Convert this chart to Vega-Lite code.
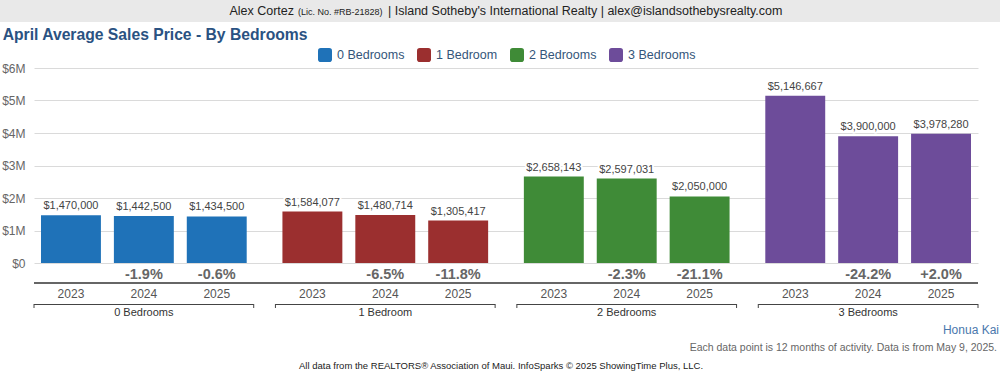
{
  "$schema": "https://vega.github.io/schema/vega-lite/v6.json",
  "padding": 0,
  "background": "white",
  "spacing": 5,
  "columns": 1,
  "align": "none",
  "bounds": "full",
  "resolve": {"scale": {"color": "independent"}, "legend": {"color": "independent"}},
  "config": {
    "font": "Liberation Sans",
    "view": {"stroke": null}
  },
  "concat": [
    {
      "width": 966,
      "height": 22,
      "view": {"stroke": null},
      "data": {"values": [{"name": "Alex Cortez", "lic": "(Lic. No. #RB-21828)", "rest": "| Island Sotheby's International Realty | alex@islandsothebysrealty.com"}]},
      "layer": [
        {"mark": {"type": "rect", "color": "#e9e9e9", "xOffset": -34}, "encoding": {"x": {"value": 0}, "x2": {"value": "width"}, "y": {"value": 0}, "y2": {"value": "height"}}},
        {"mark": {"type": "text", "align": "right", "baseline": "middle", "dx": -223, "fontSize": 12.5, "color": "#222"}, "encoding": {"text": {"field": "name"}}},
        {"mark": {"type": "text", "align": "left", "baseline": "middle", "dx": -219, "dy": 1, "fontSize": 9, "color": "#222"}, "encoding": {"text": {"field": "lic"}}},
        {"mark": {"type": "text", "align": "left", "baseline": "middle", "dx": -129, "fontSize": 12.5, "color": "#222"}, "encoding": {"text": {"field": "rest"}}}
      ]
    },
    {
      "width": 944,
      "height": 195,
      "title": {"text": "April Average Sales Price - By Bedrooms", "anchor": "start", "frame": "bounds", "fontSize": 15.7, "fontWeight": "bold", "color": "#2a5282", "offset": 4, "dx": 1},
      "data": {"values": [
        {"group": "0 Bedrooms", "year": "2023", "price": 1470000, "change": ""},
        {"group": "0 Bedrooms", "year": "2024", "price": 1442500, "change": "-1.9%"},
        {"group": "0 Bedrooms", "year": "2025", "price": 1434500, "change": "-0.6%"},
        {"group": "1 Bedroom", "year": "2023", "price": 1584077, "change": ""},
        {"group": "1 Bedroom", "year": "2024", "price": 1480714, "change": "-6.5%"},
        {"group": "1 Bedroom", "year": "2025", "price": 1305417, "change": "-11.8%"},
        {"group": "2 Bedrooms", "year": "2023", "price": 2658143, "change": ""},
        {"group": "2 Bedrooms", "year": "2024", "price": 2597031, "change": "-2.3%"},
        {"group": "2 Bedrooms", "year": "2025", "price": 2050000, "change": "-21.1%"},
        {"group": "3 Bedrooms", "year": "2023", "price": 5146667, "change": ""},
        {"group": "3 Bedrooms", "year": "2024", "price": 3900000, "change": "-24.2%"},
        {"group": "3 Bedrooms", "year": "2025", "price": 3978280, "change": "+2.0%"}
      ]},
      "layer": [
        {
          "mark": {"type": "bar"},
          "encoding": {
            "x": {"field": "group", "type": "nominal", "sort": null, "scale": {"paddingInner": 0.09, "paddingOuter": 0}, "axis": null},
            "xOffset": {"field": "year", "type": "nominal", "scale": {"paddingInner": 0.178, "paddingOuter": 0.096}},
            "y": {"field": "price", "type": "quantitative", "scale": {"domain": [0, 6000000], "nice": false},
              "axis": {"values": [0, 1000000, 2000000, 3000000, 4000000, 5000000, 6000000], "labelExpr": "datum.value == 0 ? '$0' : '$' + datum.value / 1000000 + 'M'", "title": null, "domain": false, "ticks": false, "labelPadding": 9, "labelFontSize": 12, "labelColor": "#666", "gridColor": "#dadada", "labelOverlap": false}},
            "color": {"field": "group", "type": "nominal", "sort": null,
              "scale": {"domain": ["0 Bedrooms", "1 Bedroom", "2 Bedrooms", "3 Bedrooms"], "range": ["#1f72b8", "#9b2f2f", "#3f8b37", "#6d4c9a"]},
              "legend": {"title": null, "orient": "none", "direction": "horizontal", "legendX": 284, "legendY": -20,
                "symbolType": "M-1,-0.6Q-1,-1,-0.6,-1L0.6,-1Q1,-1,1,-0.6L1,0.6Q1,1,0.6,1L-0.6,1Q-1,1,-1,0.6Z",
                "symbolSize": 196, "symbolOpacity": 1, "symbolStrokeWidth": 0, "labelFontSize": 12.5, "labelColor": "#34557a", "labelOffset": 5, "columnPadding": 12}}
          }
        },
        {
          "mark": {"type": "text", "baseline": "bottom", "dy": -4, "fontSize": 11, "stroke": "white", "strokeWidth": 4, "strokeJoin": "round"},
          "encoding": {
            "x": {"field": "group", "type": "nominal", "sort": null},
            "xOffset": {"field": "year", "type": "nominal"},
            "y": {"field": "price", "type": "quantitative", "axis": {"values": [0, 1000000, 2000000, 3000000, 4000000, 5000000, 6000000], "labelExpr": "datum.value == 0 ? '$0' : '$' + datum.value / 1000000 + 'M'", "title": null, "domain": false, "ticks": false, "labelPadding": 9, "labelFontSize": 12, "labelColor": "#666", "gridColor": "#dadada", "labelOverlap": false}},
            "text": {"field": "price", "type": "quantitative", "format": "$,.0f"}
          }
        },
        {
          "mark": {"type": "text", "baseline": "bottom", "dy": -4, "fontSize": 11, "color": "#444"},
          "encoding": {
            "x": {"field": "group", "type": "nominal", "sort": null},
            "xOffset": {"field": "year", "type": "nominal"},
            "y": {"field": "price", "type": "quantitative", "axis": {"values": [0, 1000000, 2000000, 3000000, 4000000, 5000000, 6000000], "labelExpr": "datum.value == 0 ? '$0' : '$' + datum.value / 1000000 + 'M'", "title": null, "domain": false, "ticks": false, "labelPadding": 9, "labelFontSize": 12, "labelColor": "#666", "gridColor": "#dadada", "labelOverlap": false}},
            "text": {"field": "price", "type": "quantitative", "format": "$,.0f"}
          }
        },
        {
          "mark": {"type": "text", "baseline": "middle", "dy": 11.5, "fontSize": 14.5, "fontWeight": "bold", "color": "#666"},
          "encoding": {
            "x": {"field": "group", "type": "nominal", "sort": null},
            "xOffset": {"field": "year", "type": "nominal"},
            "y": {"datum": 0, "type": "quantitative", "axis": {"values": [0, 1000000, 2000000, 3000000, 4000000, 5000000, 6000000], "labelExpr": "datum.value == 0 ? '$0' : '$' + datum.value / 1000000 + 'M'", "title": null, "domain": false, "ticks": false, "labelPadding": 9, "labelFontSize": 12, "labelColor": "#666", "gridColor": "#dadada", "labelOverlap": false}},
            "text": {"field": "change"}
          }
        },
        {
          "mark": {"type": "rule", "color": "#666", "strokeWidth": 1, "yOffset": 20},
          "encoding": {"y": {"datum": 0, "type": "quantitative", "axis": {"values": [0, 1000000, 2000000, 3000000, 4000000, 5000000, 6000000], "labelExpr": "datum.value == 0 ? '$0' : '$' + datum.value / 1000000 + 'M'", "title": null, "domain": false, "ticks": false, "labelPadding": 9, "labelFontSize": 12, "labelColor": "#666", "gridColor": "#dadada", "labelOverlap": false}}}
        },
        {
          "mark": {"type": "text", "baseline": "middle", "dy": 31, "fontSize": 12, "color": "#555"},
          "encoding": {
            "x": {"field": "group", "type": "nominal", "sort": null},
            "xOffset": {"field": "year", "type": "nominal"},
            "y": {"datum": 0, "type": "quantitative", "axis": {"values": [0, 1000000, 2000000, 3000000, 4000000, 5000000, 6000000], "labelExpr": "datum.value == 0 ? '$0' : '$' + datum.value / 1000000 + 'M'", "title": null, "domain": false, "ticks": false, "labelPadding": 9, "labelFontSize": 12, "labelColor": "#666", "gridColor": "#dadada", "labelOverlap": false}},
            "text": {"field": "year"}
          }
        },
        {
          "transform": [{"filter": "datum.year == '2023'"}],
          "mark": {"type": "bar", "color": "#444", "yOffset": 41, "y2Offset": 42},
          "encoding": {
            "x": {"field": "group", "type": "nominal", "sort": null},
            "y": {"datum": 0, "type": "quantitative", "axis": {"values": [0, 1000000, 2000000, 3000000, 4000000, 5000000, 6000000], "labelExpr": "datum.value == 0 ? '$0' : '$' + datum.value / 1000000 + 'M'", "title": null, "domain": false, "ticks": false, "labelPadding": 9, "labelFontSize": 12, "labelColor": "#666", "gridColor": "#dadada", "labelOverlap": false}},
            "y2": {"datum": 0}
          }
        },
        {
          "transform": [{"filter": "datum.year == '2023'"}],
          "mark": {"type": "rule", "color": "#444", "yOffset": 41, "y2Offset": 45},
          "encoding": {
            "x": {"field": "group", "type": "nominal", "sort": null, "bandPosition": 0},
            "y": {"datum": 0, "type": "quantitative", "axis": {"values": [0, 1000000, 2000000, 3000000, 4000000, 5000000, 6000000], "labelExpr": "datum.value == 0 ? '$0' : '$' + datum.value / 1000000 + 'M'", "title": null, "domain": false, "ticks": false, "labelPadding": 9, "labelFontSize": 12, "labelColor": "#666", "gridColor": "#dadada", "labelOverlap": false}},
            "y2": {"datum": 0}
          }
        },
        {
          "transform": [{"filter": "datum.year == '2023'"}],
          "mark": {"type": "rule", "color": "#444", "yOffset": 41, "y2Offset": 45},
          "encoding": {
            "x": {"field": "group", "type": "nominal", "sort": null, "bandPosition": 1},
            "y": {"datum": 0, "type": "quantitative", "axis": {"values": [0, 1000000, 2000000, 3000000, 4000000, 5000000, 6000000], "labelExpr": "datum.value == 0 ? '$0' : '$' + datum.value / 1000000 + 'M'", "title": null, "domain": false, "ticks": false, "labelPadding": 9, "labelFontSize": 12, "labelColor": "#666", "gridColor": "#dadada", "labelOverlap": false}},
            "y2": {"datum": 0}
          }
        },
        {
          "transform": [{"filter": "datum.year == '2023'"}],
          "mark": {"type": "text", "baseline": "middle", "dy": 50, "fontSize": 11, "color": "#333"},
          "encoding": {
            "x": {"field": "group", "type": "nominal", "sort": null},
            "y": {"datum": 0, "type": "quantitative", "axis": {"values": [0, 1000000, 2000000, 3000000, 4000000, 5000000, 6000000], "labelExpr": "datum.value == 0 ? '$0' : '$' + datum.value / 1000000 + 'M'", "title": null, "domain": false, "ticks": false, "labelPadding": 9, "labelFontSize": 12, "labelColor": "#666", "gridColor": "#dadada", "labelOverlap": false}},
            "text": {"field": "group"}
          }
        },
        {
          "data": {"values": [{"label": "Honua Kai"}]},
          "mark": {"type": "text", "align": "right", "baseline": "middle", "dx": 21, "dy": 67, "fontSize": 12, "color": "#4a78ad"},
          "encoding": {"x": {"value": "width"}, "y": {"value": "height"}, "text": {"field": "label"}}
        },
        {
          "data": {"values": [{"label": "Each data point is 12 months of activity. Data is from May 9, 2025."}]},
          "mark": {"type": "text", "align": "right", "baseline": "middle", "dx": 19, "dy": 85, "fontSize": 10.5, "color": "#666"},
          "encoding": {"x": {"value": "width"}, "y": {"value": "height"}, "text": {"field": "label"}}
        },
        {
          "data": {"values": [{"label": "All data from the REALTORS® Association of Maui. InfoSparks © 2025 ShowingTime Plus, LLC."}]},
          "mark": {"type": "text", "align": "center", "baseline": "middle", "dx": -5, "dy": 103, "fontSize": 9.5, "color": "#222"},
          "encoding": {"y": {"value": "height"}, "text": {"field": "label"}}
        }
      ]
    }
  ]
}
